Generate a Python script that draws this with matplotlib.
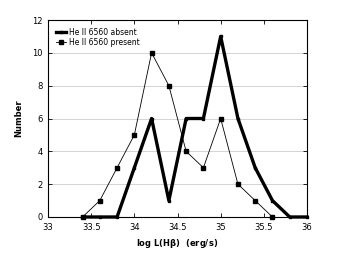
import matplotlib
matplotlib.use("Agg")
import matplotlib.pyplot as plt

# bins of log L(Hb)
x_absent = [33.4, 33.6, 33.8, 34.0, 34.2, 34.4, 34.6, 34.8, 35.0, 35.2, 35.4, 35.6, 35.8, 36.0]
n_absent = [0, 0, 0, 3, 6, 1, 6, 6, 11, 6, 3, 1, 0, 0]
x_present = [33.4, 33.6, 33.8, 34.0, 34.2, 34.4, 34.6, 34.8, 35.0, 35.2, 35.4, 35.6]
n_present = [0, 1, 3, 5, 10, 8, 4, 3, 6, 2, 1, 0]

plt.rcParams['font.family'] = ['DejaVu Sans']
fig = plt.figure(figsize=(3.41, 2.64), dpi=100)
ax = fig.add_axes([48/341, 1-217/264, (307-48)/341, (217-20)/264])

ax.plot(x_absent, n_absent, 'k-', lw=2.4, marker='s', ms=1.5, label='He II 6560 absent', clip_on=False, zorder=3)
ax.plot(x_present, n_present, 'k-', lw=0.6, marker='s', ms=2.6, label='He II 6560 present', clip_on=False, zorder=3)

ax.set_xlim(33, 36)
ax.set_ylim(0, 12)
ax.set_xticks([33, 33.5, 34, 34.5, 35, 35.5, 36])
ax.set_xticklabels(['33', '33.5', '34', '34.5', '35', '35.5', '36'])
ax.set_yticks(range(0, 13, 2))
ax.yaxis.grid(True, color='#cccccc', lw=0.6)
ax.set_axisbelow(True)
ax.tick_params(direction='in', length=3, width=0.6, labelsize=6, top=True, right=True, pad=4)
for s in ax.spines.values():
    s.set_linewidth(0.8)

ax.set_xlabel(r'log L(H$\mathregular{\beta}$)  (erg/s)', fontsize=6, fontweight='bold', labelpad=4)
ax.set_ylabel('Number', fontsize=6, fontweight='bold', labelpad=6)

ax.legend(loc='upper left', fontsize=5.5, frameon=False, handlelength=1.4, handletextpad=0.3,
          borderaxespad=0.6, labelspacing=0.2)

fig.savefig('out.png', dpi=100)
